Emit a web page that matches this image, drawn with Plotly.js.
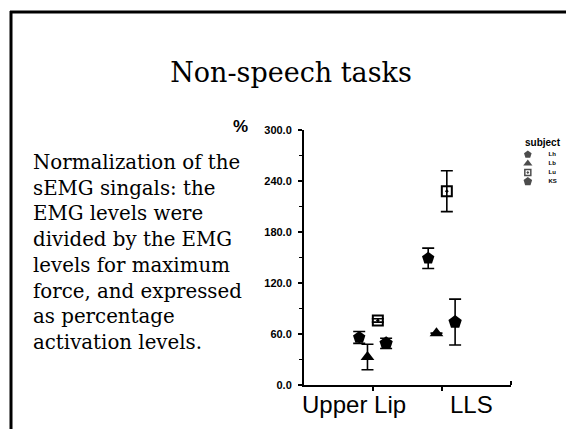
<!DOCTYPE html>
<html>
<head>
<meta charset="utf-8">
<script src="https://cdn.plot.ly/plotly-3.0.1.min.js"></script>
<style>html,body{margin:0;padding:0;background:#fff;}#chart{width:566px;height:429px;}</style>
</head>
<body>
<div id="chart"></div>
<script>
// ---- data ----
const categories = ["Upper Lip", "LLS"];
const subjects = ["Lh", "Lb", "Lu", "KS"];
const s1Values = [56, 149];
const s1Errors = [7, 12];
const s2Values = [33, 61];
const s2Errors = [15, 0];
const s3Values = [76, 228];
const s3Errors = [2, 24];
const s4Values = [49, 74];
const s4Errors = [6, 27];
const yTicks = [0, 60, 120, 180, 240, 300];
const noteLines = ["Normalization of the", "sEMG singals: the", "EMG levels were",
  "divided by the EMG", "levels for maximum", "force, and expressed",
  "as percentage", "activation levels."];

// ---- layout helpers (page pixels -> paper fractions) ----
const W = 566, H = 429;
const fx = x => x / W;
const fy = y => 1 - y / H;
const plotL = 304, plotR = 511, plotT = 130, plotB = 385;
const catPos = categories.map((c, i) => i + 1);
const dodge = [-0.2, -0.08, 0.07, 0.19];

const series = [
  {v: s1Values, e: s1Errors, sym: "pentagon", size: 13, lsize: 8, lw: 0},
  {v: s2Values, e: s2Errors, sym: "triangle-up", size: 12, lsize: 8, lw: 0},
  {v: s3Values, e: s3Errors, sym: "square-open-dot", size: 10, lsize: 6, lw: 2},
  {v: s4Values, e: s4Errors, sym: "pentagon", size: 14, lsize: 9, lw: 0}
];

const traces = series.map((s, k) => ({
  type: "scatter",
  mode: "markers",
  name: subjects[k],
  showlegend: false,
  x: catPos.map(p => p + dodge[k]),
  y: s.v,
  error_y: {type: "data", array: s.e, visible: true, color: "#000", thickness: 1.6, width: 6},
  marker: {symbol: s.sym, size: s.size, color: "#000", line: {color: "#000", width: s.lw}},
  cliponaxis: false
}));

// legend key drawn on its own small axes: one row per subject
const subjIdx = subjects.map((s, i) => i);
traces.push({
  type: "scatter", mode: "markers", xaxis: "x2", yaxis: "y2", showlegend: false,
  x: subjIdx.map(() => 0.17), y: subjIdx,
  marker: {symbol: series.map(s => s.sym), size: series.map(s => s.lsize), color: "#000",
    line: {color: "#000", width: series.map(s => s.lw ? 1.5 : 0)}}
});
traces.push({
  type: "scatter", mode: "text", xaxis: "x2", yaxis: "y2", showlegend: false,
  x: subjIdx.map(() => 0.62), y: subjIdx, text: subjects.map(s => "<b>" + s + "</b>"),
  textposition: "middle right",
  textfont: {family: "Liberation Sans", size: 6, color: "#000"}
});

const annotations = [];
annotations.push({
  text: noteLines.join("<br>"), xref: "paper", yref: "paper", x: fx(31),
  y: fy(163 + 3.5 * 25.7), xanchor: "left", yanchor: "middle", align: "left", showarrow: false,
  font: {family: "DejaVu Serif", size: 19.8, color: "#000"}
});
annotations.push({text: "<b>%</b>", xref: "paper", yref: "paper", x: fx(241), y: fy(126),
  xanchor: "center", yanchor: "middle", showarrow: false,
  font: {family: "Liberation Sans", size: 17, color: "#000"}});
annotations.push({text: "<b>subject</b>", xref: "paper", yref: "paper", x: fx(543), y: fy(143),
  xanchor: "center", yanchor: "middle", showarrow: false,
  font: {family: "Liberation Sans", size: 10, color: "#000"}});
const catLabelX = [354, 471];
categories.forEach((c, i) => {
  annotations.push({text: c, xref: "paper", yref: "paper", x: fx(catLabelX[i]), y: fy(404),
    xanchor: "center", yanchor: "middle", showarrow: false,
    font: {family: "Liberation Sans", size: 24, color: "#000"}});
});

const shapes = [
  {type: "line", xref: "paper", yref: "paper", x0: fx(10), x1: 1, y0: fy(12), y1: fy(12),
   line: {color: "#000", width: 3}},
  {type: "line", xref: "paper", yref: "paper", x0: fx(11), x1: fx(11), y0: fy(11), y1: 0,
   line: {color: "#000", width: 3}},
  {type: "line", xref: "paper", yref: "paper", x0: fx(plotR), x1: fx(plotR), y0: fy(plotB), y1: fy(381),
   line: {color: "#000", width: 2}}
];

const layout = {
  width: W, height: H,
  margin: {l: 0, r: 0, t: 0, b: 0, pad: 0},
  paper_bgcolor: "#fff", plot_bgcolor: "rgba(0,0,0,0)",
  showlegend: false,
  title: {text: "Non-speech tasks", xref: "container", yref: "container",
    x: 291 / W, y: 1 - 73 / H, xanchor: "center", yanchor: "middle",
    font: {family: "DejaVu Serif", size: 27, color: "#000"}},
  xaxis: {domain: [fx(plotL), fx(plotR)], range: [0, 3], tickvals: catPos, ticktext: ["", ""],
    ticks: "outside", ticklen: 4, tickwidth: 1.5, tickcolor: "#000", showticklabels: false,
    showline: true, linecolor: "#000", linewidth: 2, showgrid: false, zeroline: false, fixedrange: true},
  yaxis: {domain: [fy(plotB), fy(plotT)], range: [0, 300], tickvals: yTicks, tickformat: ".1f",
    ticks: "outside", ticklen: 4, tickwidth: 1.5, tickcolor: "#000", showline: true,
    linecolor: "#000", linewidth: 2, showgrid: false, zeroline: false, ticklabelstandoff: 4,
    tickfont: {family: "Liberation Sans", size: 11, color: "#000", weight: "bold"},
    minor: {dtick: 30, ticks: "outside", ticklen: 3, tickcolor: "#000", tickwidth: 1, showgrid: false}},
  xaxis2: {domain: [fx(520), fx(566)], range: [0, 1], visible: false, fixedrange: true},
  yaxis2: {domain: [fy(186), fy(150)], range: [3.5, -0.5], visible: false, fixedrange: true,
    anchor: "x2"},
  annotations: annotations,
  shapes: shapes
};

Plotly.newPlot("chart", traces, layout, {staticPlot: true, displayModeBar: false});
</script>
</body>
</html>
